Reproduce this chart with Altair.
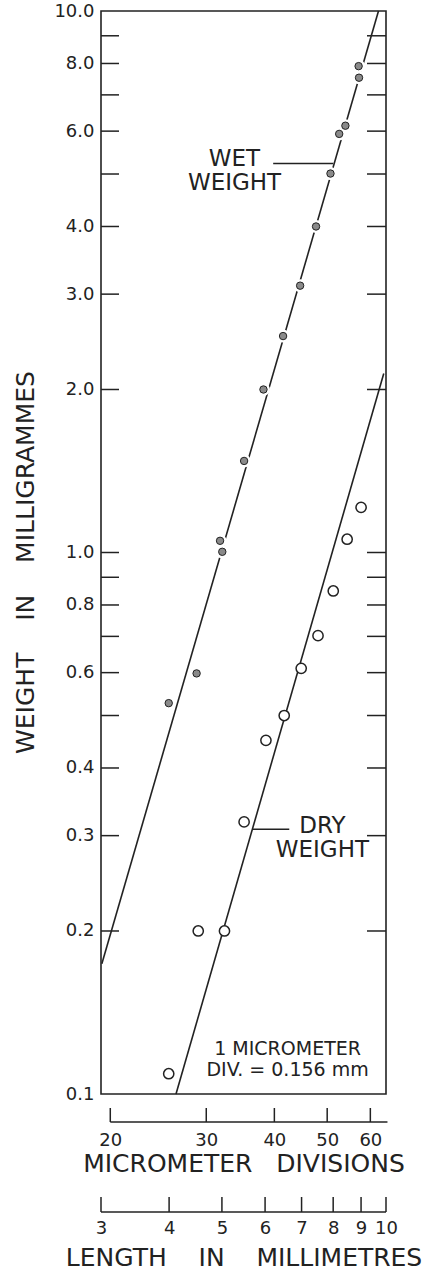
import altair as alt
import pandas as pd

# Wet weight of specimens: body length (micrometer divisions) and weight (mg)
wet_div = [25.6, 28.8, 31.8, 32.1, 35.2, 38.2, 41.5, 44.6, 47.7, 50.7, 52.6, 54.0, 57.2, 57.1]
wet_mg = [0.527, 0.598, 1.051, 1.003, 1.476, 2.00, 2.51, 3.11, 4.00, 5.01, 5.93, 6.14, 7.53, 7.91]

# Dry weight of specimens
dry_div = [25.6, 29.0, 32.4, 35.2, 38.6, 41.7, 44.8, 48.1, 51.3, 54.4, 57.7]
dry_mg = [0.109, 0.200, 0.200, 0.318, 0.450, 0.500, 0.611, 0.702, 0.849, 1.058, 1.212]

# Fitted regression lines (end points)
wet_fit_div = [19.3, 62.1]
wet_fit_mg = [0.174, 10.0]
dry_fit_div = [26.4, 63.5]
dry_fit_mg = [0.100, 2.14]

# Axis values
weight_labels = [0.1, 0.2, 0.3, 0.4, 0.6, 0.8, 1.0, 2.0, 3.0, 4.0, 6.0, 8.0, 10.0]
weight_ticks = [0.2, 0.3, 0.4, 0.5, 0.6, 0.7, 0.8, 0.9, 1, 2, 3, 4, 5, 6, 7, 8, 9]
div_ticks = [20, 30, 40, 50, 60]
mm_ticks = [3, 4, 5, 6, 7, 8, 9, 10]

MM_PER_DIV = 0.156
mm_range = [3, 10]
div_range = [mm_range[0] / MM_PER_DIV, mm_range[1] / MM_PER_DIV]

# Annotation texts and the anchor of their first line (data units)
note_text = ["WET\nWEIGHT", "DRY\nWEIGHT"]
note_div = [33.8, 49.0]
note_mg = [5.33, 0.3126]
leader_div = [39.8, 36.4]
leader_div2 = [51.3, 42.6]
leader_mg = [5.23, 0.3083]
scale_text = ["1 MICROMETER\nDIV. = 0.156 mm"]
scale_div = [42.3]
scale_mg = [0.1212]

W, H = 285, 1083
INK = "#222222"
FONT = "DejaVu Sans"
NB = "\u00a0"

wet = pd.DataFrame({"div": wet_div, "mg": wet_mg})
dry = pd.DataFrame({"div": dry_div, "mg": dry_mg})
fits = pd.DataFrame({
    "div": wet_fit_div + dry_fit_div,
    "mg": wet_fit_mg + dry_fit_mg,
    "series": ["wet", "wet", "dry", "dry"],
})
yt = pd.DataFrame({"mg": weight_ticks})
xt = pd.DataFrame({"div": div_ticks})
x_line = pd.DataFrame({"div": [div_ticks[0]], "div2": [64.5]})
notes = pd.DataFrame({"text": note_text, "div": note_div, "mg": note_mg})
leaders = pd.DataFrame({"div": leader_div, "div2": leader_div2, "mg": leader_mg})
scale_note = pd.DataFrame({"text": scale_text, "div": scale_div, "mg": scale_mg})
mmt = pd.DataFrame({"mm": mm_ticks})
mm_line = pd.DataFrame({"mm": [mm_range[0]], "mm2": [mm_range[1]]})

x_axis = alt.Axis(
    orient="bottom", values=div_ticks, format="d", ticks=False, domain=False, grid=False,
    labelPadding=37, labelFontSize=18, labelFlush=False, labelOverlap=False,
    title="MICROMETER" + NB * 3 + "DIVISIONS", titleFontSize=25, titleFontWeight="normal",
    titleY=57,
)
y_axis = alt.Axis(
    values=weight_labels, format=".1f", ticks=False, domain=False, grid=False,
    labelPadding=7, labelFontSize=18, labelOverlap=False,
    title="WEIGHT" + NB * 4 + "IN" + NB * 4 + "MILLIGRAMMES", titleFontSize=25,
    titleFontWeight="normal", titleX=-76, titleY=551, titleBaseline="middle", titleAlign="center",
)
X = alt.X("div:Q", scale=alt.Scale(type="log", domain=div_range), axis=x_axis)
Y = alt.Y("mg:Q", scale=alt.Scale(type="log", domain=[0.1, 10]), axis=y_axis)

fit_lines = alt.Chart(fits).mark_line(color=INK, strokeWidth=1.6).encode(x=X, y=Y, detail="series:N")
halo = alt.Chart(wet).mark_point(shape="circle", filled=True, color="white", size=170, opacity=1).encode(x=X, y=Y)
wet_pts = alt.Chart(wet).mark_point(
    shape="circle", filled=True, fill="#8a8a8a", stroke=INK, strokeWidth=1, size=55, opacity=1
).encode(x=X, y=Y)
dry_pts = alt.Chart(dry).mark_point(
    shape="circle", filled=True, fill="white", stroke=INK, strokeWidth=1.5, size=105, opacity=1
).encode(x=X, y=Y)

ticks_left = alt.Chart(yt).mark_rule(color=INK, strokeWidth=1.5).encode(
    y=Y, x=alt.value(0), x2=alt.value(18))
ticks_right = alt.Chart(yt).mark_rule(color=INK, strokeWidth=1.5).encode(
    y=Y, x=alt.value(W - 19), x2=alt.value(W))

x_ticks = alt.Chart(xt).mark_rule(color=INK, strokeWidth=1.5).encode(
    x=X, y=alt.value(H + 14), y2=alt.value(H + 28))
x_base = alt.Chart(x_line).mark_rule(color=INK, strokeWidth=1.5).encode(
    x=X, x2="div2:Q", y=alt.value(H + 28))

note_marks = alt.Chart(notes).mark_text(
    font=FONT, fontSize=23, color=INK, align="center", baseline="middle",
    lineBreak="\n", lineHeight=24,
).encode(x=X, y=Y, text="text:N")
leader_marks = alt.Chart(leaders).mark_rule(color=INK, strokeWidth=1.5).encode(x=X, x2="div2:Q", y=Y)
scale_marks = alt.Chart(scale_note).mark_text(
    font=FONT, fontSize=19, color=INK, align="center", baseline="middle",
    lineBreak="\n", lineHeight=21,
).encode(x=X, y=Y, text="text:N")

main = alt.layer(
    ticks_left, ticks_right, fit_lines, halo, wet_pts, dry_pts,
    leader_marks, note_marks, scale_marks, x_ticks, x_base,
)

mm_axis = alt.Axis(
    orient="bottom", values=mm_ticks, format="d", ticks=False, domain=False, grid=False,
    labelPadding=125, labelFontSize=18, labelFlush=False, labelOverlap=False,
    title="LENGTH" + NB * 4 + "IN" + NB * 4 + "MILLIMETRES", titleFontSize=25,
    titleFontWeight="normal", titleY=151,
)
XM = alt.X("mm:Q", scale=alt.Scale(type="log", domain=mm_range), axis=mm_axis)
mm_tick_marks = alt.Chart(mmt).mark_rule(color=INK, strokeWidth=1.5).encode(
    x=XM, y=alt.value(H + 103), y2=alt.value(H + 118))
mm_base = alt.Chart(mm_line).mark_rule(color=INK, strokeWidth=1.5).encode(
    x=XM, x2="mm2:Q", y=alt.value(H + 118))
mm_layer = alt.layer(mm_tick_marks, mm_base)

chart = (
    alt.layer(main, mm_layer)
    .resolve_scale(x="independent")
    .properties(
        width=W, height=H,
        autosize=alt.AutoSizeParams(type="none"),
        padding={"left": 101, "top": 11, "right": 435 - 101 - W, "bottom": 1271 - 11 - H},
        background="white",
    )
    .configure(font=FONT)
    .configure_axis(labelColor=INK, titleColor=INK, labelFont=FONT, titleFont=FONT)
    .configure_view(stroke=INK, strokeWidth=1.6)
)

chart.save("out.html", embed_options={"renderer": "svg", "actions": False})
